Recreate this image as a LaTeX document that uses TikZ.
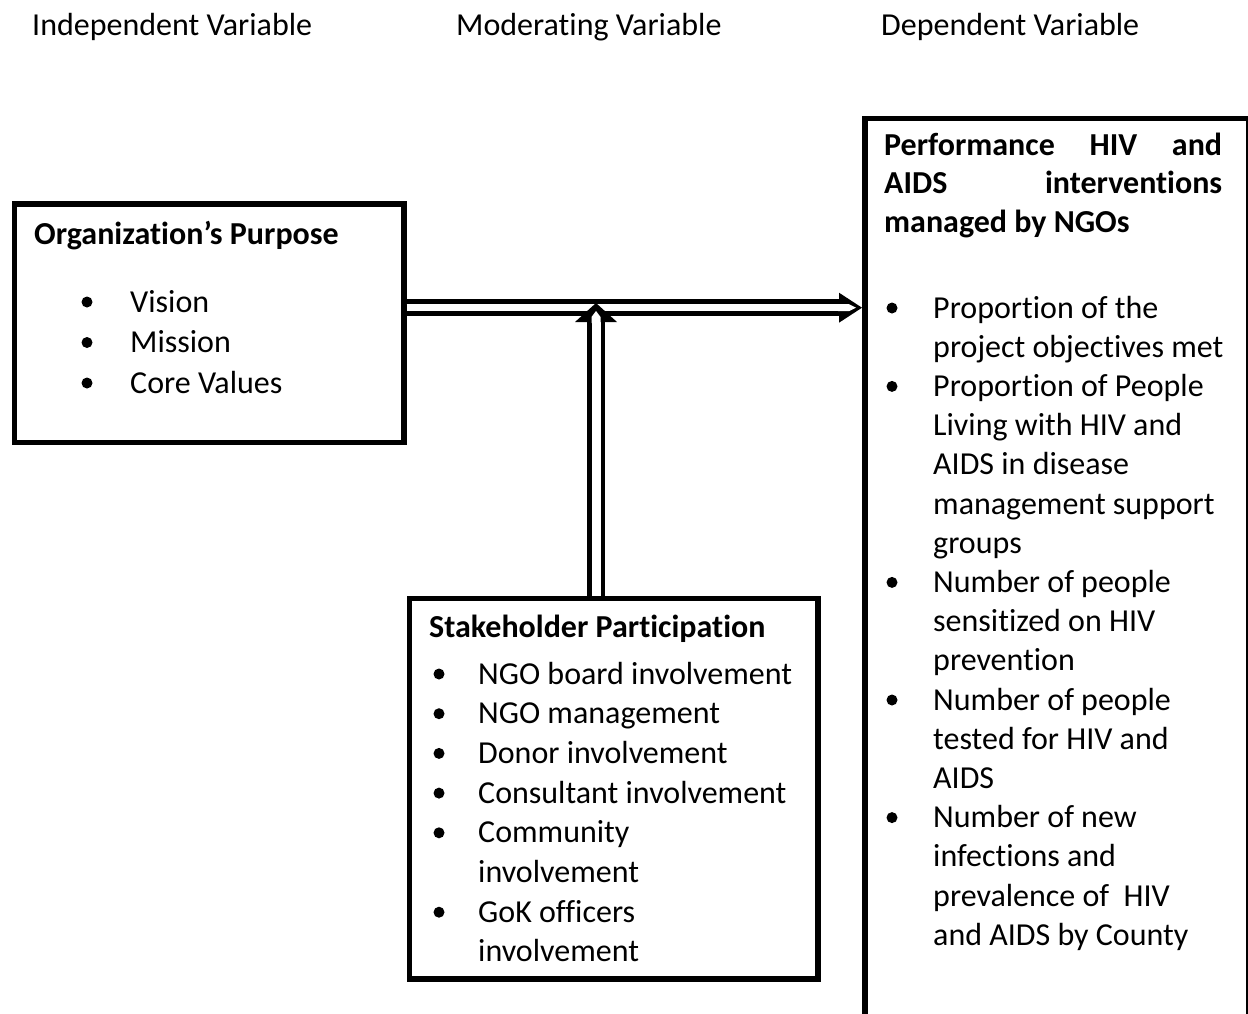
\documentclass[tikz,border=0pt]{standalone}
\usepackage{fontspec}
\setmainfont{Carlito}[Ligatures=NoCommon]
\begin{document}
\begin{tikzpicture}[x=1pt,y=-1pt,
  box/.style={draw=black, line width=5.5pt, rectangle, inner sep=0pt, anchor=north west},
  txt/.style={anchor=base west, inner sep=0pt, font=\fontsize{32}{39.5}\selectfont},
  btxt/.style={anchor=base west, inner sep=0pt, font=\fontsize{32}{39.5}\selectfont\bfseries},
  bul/.style={circle, fill=black, inner sep=0pt, minimum size=11pt},
  dbl/.style={draw=black, double=white, line width=5pt, double distance=7pt},
  vdbl/.style={draw=black, double=white, line width=4.5pt, double distance=9pt},
]
\useasboundingbox[fill=white] (0,0) rectangle (1248,1013);

% headers
\node[txt] (h1) at (32,35) {Independent Variable};
\node[txt] (h2) at (456,35) {Moderating Variable};
\node[txt] (h3) at (881,35) {Dependent Variable};

% boxes
\node[box, minimum width=389.5pt, minimum height=238.5pt] (org) at (11.5,201) {};
\node[box, minimum width=408.5pt, minimum height=380.5pt] (stake) at (406.5,595.5) {};
\node[box, minimum width=383.5pt, minimum height=898pt] (dep) at (862,115.5) {};

% left box text
\node[btxt] (ot) at (34,244) {Organization’s Purpose};
\foreach \t [count=\k from 0] in {Vision, Mission, Core Values} {
  \node[txt] (o\k) at (130,{312+40.5*\k}) {\t};
  \node[bul] (ob\k) at (87,{302+40.5*\k}) {};
}

% stakeholder box text
\node[btxt] (st) at (429,637) {Stakeholder Participation};
\foreach \t [count=\k from 0] in {NGO board involvement, NGO management, Donor involvement, Consultant involvement, Community, involvement, GoK officers, involvement} {
  \node[txt] (s\k) at (478,{684+39.7*\k}) {\t};
}
\foreach \k in {0,1,2,3,4,6} {
  \node[bul] (sb\k) at (439,{674+39.7*\k}) {};
}

% right box text
\node[btxt] (d1) at (884,155) {\makebox[338pt][s]{Performance\hfill HIV\hfill and}};
\node[btxt] (d2) at (884,193.5) {\makebox[338pt][s]{AIDS\hfill interventions}};
\node[btxt] (d3) at (884,232) {managed by NGOs};
\foreach \t [count=\k from 0] in {Proportion of the, project objectives met, Proportion of People, Living with HIV and, AIDS in disease, management support, groups, Number of people, sensitized on HIV, prevention, Number of people, tested for HIV and, AIDS, Number of new, infections and, prevalence of~ HIV, and AIDS by County} {
  \node[txt] (r\k) at (933,{318+39.2*\k}) {\t};
}
\foreach \k in {0,2,7,10,13} {
  \node[bul] (rb\k) at (892,{308+39.2*\k}) {};
}

% horizontal double arrow
\coordinate (j) at (596,307.7);
\coordinate (hTip) at (dep.west |- j);
\draw[dbl] (org.east |- j) -- ([xshift=-22pt]hTip);
\begin{scope}[shift={(hTip)}]
  \fill[black] (-23,-15) -- (0,0) -- (-23,15) -- cycle;
  \fill[white] (-24,-3.5) -- (-13,-3.5) -- (-6,0) -- (-13,3.5) -- (-24,3.5) -- cycle;
\end{scope}

% vertical double arrow
\coordinate (vTip) at ([yshift=4.7pt]j);
\draw[vdbl] (stake.north -| j) -- ([yshift=-18pt]vTip);
\begin{scope}[shift={(vTip)}]
  \fill[black] (-21,19) -- (0,0) -- (21,19) -- cycle;
  \fill[white] (-4.5,20) -- (-4.5,14) -- (0,8) -- (4.5,14) -- (4.5,20) -- cycle;
\end{scope}
\end{tikzpicture}
\end{document}
